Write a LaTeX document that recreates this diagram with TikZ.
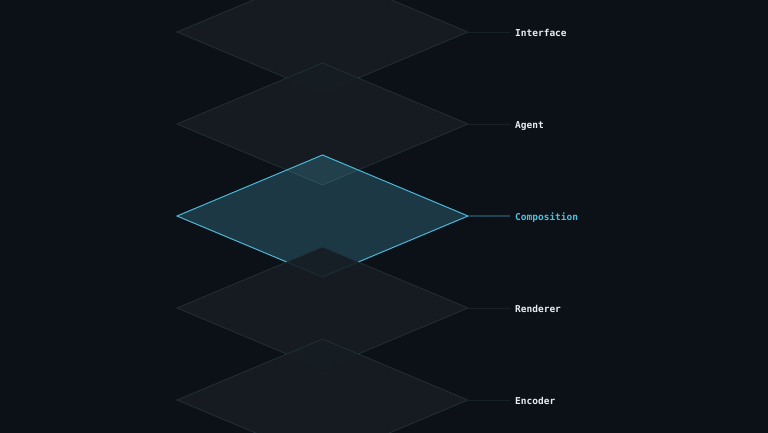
\documentclass[tikz,border=0pt]{standalone}
\usepackage{fontspec}
\newfontfamily\monofont{DejaVu Sans Mono}
\definecolor{bg}{RGB}{12,17,24}
\definecolor{layerfill}{RGB}{22,29,35}
\definecolor{layeredge}{RGB}{34,50,58}
\definecolor{hifill}{RGB}{87,212,244}
\definecolor{hiedge}{RGB}{74,184,216}
\definecolor{leader}{RGB}{24,32,40}
\definecolor{hileader}{RGB}{31,68,84}
\definecolor{labeltext}{RGB}{230,237,243}
\definecolor{hilabel}{RGB}{76,192,221}
\tikzset{
  layer/.style={fill=layerfill, fill opacity=0.9, draw=layeredge, line width=0.7pt, line join=miter},
  hilayer/.style={fill=hifill, fill opacity=0.2, draw=hiedge, draw opacity=1, line width=1pt},
  leaderline/.style={draw=leader, line width=1pt},
  hileaderline/.style={draw=hileader, line width=1.5pt},
  lbl/.style={anchor=base west, inner sep=0pt, font=\monofont\bfseries\fontsize{9.5}{11}\selectfont, text=labeltext},
  hilbl/.style={lbl, text=hilabel}
}
\begin{document}
\begin{tikzpicture}[x=1pt,y=-1pt]
\useasboundingbox (0,0) rectangle (768,432);
\fill[bg] (-10,-10) rectangle (778,442);
\begin{scope}
\clip (-10,-10) rectangle (778,442);
\foreach \n/\cy in {iface/32, agent/124, comp/216, rend/308, enc/400}{
  \coordinate (\n-l) at (177,\cy);
  \coordinate (\n-r) at (468,\cy);
  \coordinate (\n-t) at (322.5,\cy-61);
  \coordinate (\n-b) at (322.5,\cy+61);
  \coordinate (\n-e) at (510,\cy);
  \coordinate (\n-p) at (515,\cy+4.5);
}
\path[layer] (iface-l) -- (iface-t) -- (iface-r) -- (iface-b) -- cycle;
\path[layer] (agent-l) -- (agent-t) -- (agent-r) -- (agent-b) -- cycle;
\path[hilayer] (comp-l) -- (comp-t) -- (comp-r) -- (comp-b) -- cycle;
\path[layer] (rend-l) -- (rend-t) -- (rend-r) -- (rend-b) -- cycle;
\path[layer] (enc-l) -- (enc-t) -- (enc-r) -- (enc-b) -- cycle;
\end{scope}
\draw[leaderline] (iface-r) -- (iface-e);
\draw[leaderline] (agent-r) -- (agent-e);
\draw[hileaderline] (comp-r) -- (comp-e);
\draw[leaderline] (rend-r) -- (rend-e);
\draw[leaderline] (enc-r) -- (enc-e);
\node[lbl] (iface-lab) at (iface-p) {Interface};
\node[lbl] (agent-lab) at (agent-p) {Agent};
\node[hilbl] (comp-lab) at (comp-p) {Composition};
\node[lbl] (rend-lab) at (rend-p) {Renderer};
\node[lbl] (enc-lab) at (enc-p) {Encoder};
\end{tikzpicture}
\end{document}
